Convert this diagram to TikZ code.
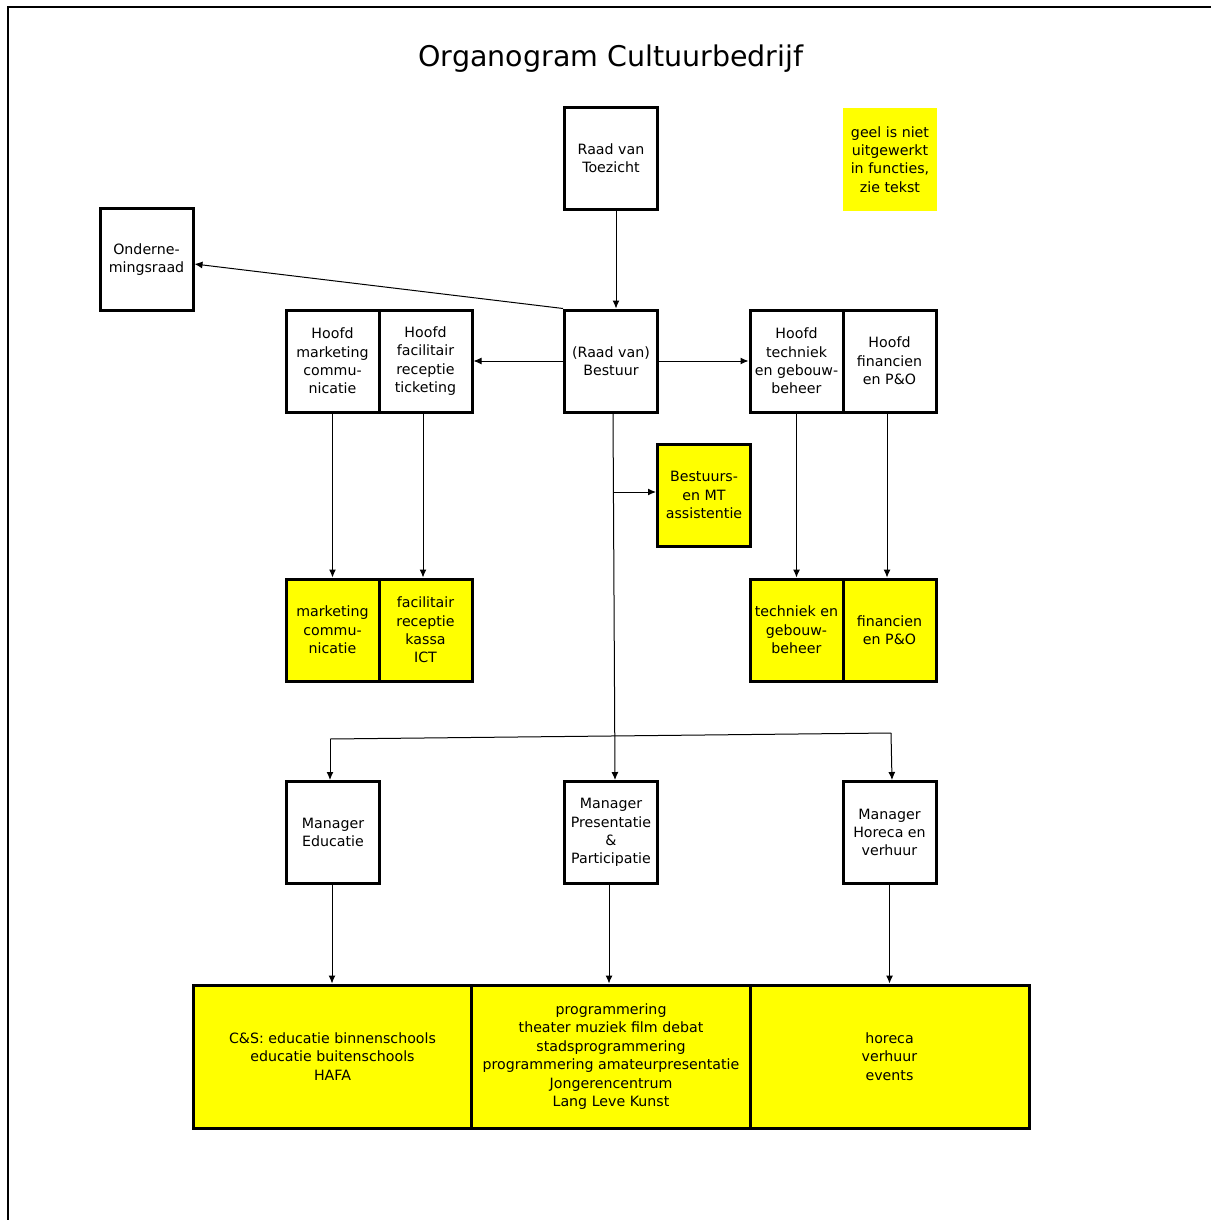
\documentclass[tikz,border=0pt]{standalone}
\usepackage{fontspec}
\setmainfont{DejaVu Sans}
\usetikzlibrary{arrows.meta}
\definecolor{geel}{RGB}{255,255,0}
\tikzset{
  box/.style={draw, line width=3pt, minimum width=93pt, minimum height=102pt,
    inner sep=1pt, align=center, font=\fontsize{14.2}{18.4}\selectfont},
  ybox/.style={box, fill=geel},
  wide/.style={ybox, minimum width=279pt, minimum height=143pt},
  note/.style={fill=geel, minimum width=94pt, minimum height=103pt, inner sep=1pt,
    align=center, font=\fontsize{14.2}{18.4}\selectfont},
  arr/.style={-{Latex[length=8pt,width=7pt]}, line width=1pt},
  con/.style={line width=1pt}
}
\begin{document}
\begin{tikzpicture}[x=1pt,y=-1pt]
\useasboundingbox (0,0) rectangle (1211,1220);
\draw[line width=2pt] (8,1220) -- (8,7) -- (1211,7);
\node[font=\fontsize{28.5}{34}\selectfont] (title) at (611,58.5) {Organogram Cultuurbedrijf};

\node[box] (rvt) at (611,158.5) {Raad van\\Toezicht};
\node[note] (nt) at (890,159.5) {geel is niet\\uitgewerkt\\in functies,\\zie tekst};
\node[box] (or) at (146.5,259.5) {Onderne-\\mingsraad};
\node[box] (hmc) at (332.5,361) {Hoofd\\marketing\\commu-\\nicatie};
\node[box] (hfr) at (425.5,361) {Hoofd\\facilitair\\receptie\\ticketing};
\node[box] (rvb) at (611,361) {(Raad van)\\Bestuur};
\node[box] (htg) at (796.5,361) {Hoofd\\techniek\\en gebouw-\\beheer};
\node[box] (hfp) at (889.5,361) {Hoofd\\financien\\en P\&O};
\node[ybox] (bmt) at (704,495) {Bestuurs-\\en MT\\assistentie};
\node[ybox] (mc) at (332.5,630) {marketing\\commu-\\nicatie};
\node[ybox] (fr) at (425.5,630) {facilitair\\receptie\\kassa\\ICT};
\node[ybox] (tg) at (796.5,630) {techniek en\\gebouw-\\beheer};
\node[ybox] (fp) at (889.5,630) {financien\\en P\&O};
\node[box] (me) at (333,832.5) {Manager\\Educatie};
\node[box] (mp) at (611,832.5) {Manager\\Presentatie\\\&\\Participatie};
\node[box] (mh) at (889.5,832.5) {Manager\\Horeca en\\verhuur};
\node[wide] (bl) at (332.5,1056.5) {C\&S: educatie binnenschools\\educatie buitenschools\\HAFA};
\node[wide] (bm) at (611,1056.5) {programmering\\theater muziek film debat\\stadsprogrammering\\programmering amateurpresentatie\\Jongerencentrum\\Lang Leve Kunst};
\node[wide] (br) at (889.5,1056.5) {horeca\\verhuur\\events};

\draw[arr] ([xshift=5pt]rvt.south) -- ([xshift=5pt]rvb.north);
\draw[arr] (rvb.north west) -- ([yshift=-4.5pt]or.east);
\draw[arr] (rvb.west) -- (hfr.east);
\draw[arr] (rvb.east) -- (htg.west);
\draw[arr] ([xshift=2pt]rvb.south) -- ([xshift=4pt]mp.north);
\coordinate (b1) at (613.4,492);
\draw[arr] (b1) -- (bmt.west |- b1);
\coordinate (hl) at (330,739);
\coordinate (hr) at (891,733);
\draw[con] (hl) -- (hr);
\draw[arr] (hl) -- (hl |- me.north);
\draw[arr] (hr) -- ([xshift=1pt]hr |- mh.north);
\draw[arr] (hmc.south) -- (mc.north);
\draw[arr] ([xshift=-2.5pt]hfr.south) -- ([xshift=-2.5pt]fr.north);
\draw[arr] (htg.south) -- (tg.north);
\draw[arr] ([xshift=-2.5pt]hfp.south) -- ([xshift=-2.5pt]fp.north);
\draw[arr] ([xshift=-1pt]me.south) -- ([xshift=-1pt]me.south |- bl.north);
\draw[arr] ([xshift=-2pt]mp.south) -- ([xshift=-2pt]mp.south |- bm.north);
\draw[arr] (mh.south) -- (mh.south |- br.north);
\end{tikzpicture}
\end{document}
